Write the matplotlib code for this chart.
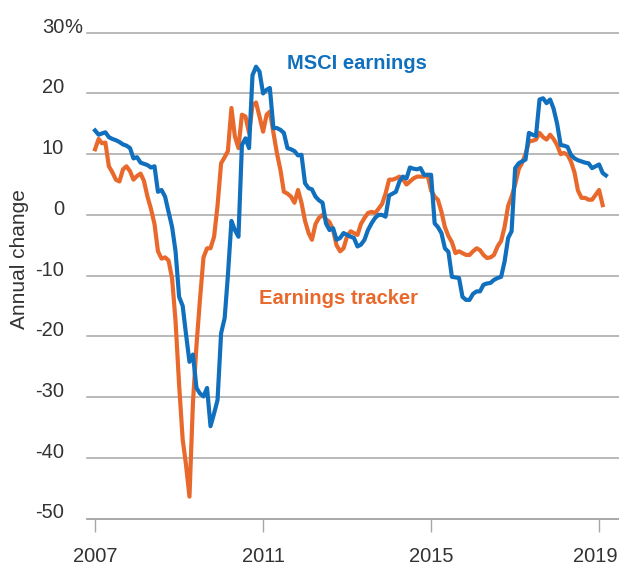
import matplotlib
matplotlib.use("Agg")
import matplotlib.pyplot as plt
import matplotlib.dates as mdates
import matplotlib.transforms as mtransforms
import pandas as pd

plt.rcParams["font.family"] = ["Liberation Sans", "DejaVu Sans"]

# Monthly annual change (%), Jan 2007 onward
msci = [13.9, 13.2, 13.4, 13.6, 12.8, 12.5, 12.3, 12.0, 11.6, 11.4,
        11.0, 9.3, 9.5, 8.6, 8.4, 8.2, 7.8, 8.0, 3.8, 4.1,
        3.0, 0.5, -2.0, -6.0, -13.5, -15.0, -19.5, -24.2, -23.0, -28.5,
        -29.4, -29.9, -28.5, -34.8, -32.7, -30.5, -19.5, -17.0, -10.0, -1.0,
        -2.5, -3.6, 11.5, 12.6, 11.0, 23.0, 24.4, 23.6, 20.0, 20.6,
        20.9, 14.3, 14.3, 14.0, 13.5, 11.0, 10.8, 10.5, 9.8, 9.9,
        5.2, 4.4, 4.2, 3.0, 2.4, 2.0, -1.4, -2.5, -2.2, -4.1,
        -3.8, -3.0, -3.3, -3.6, -3.8, -5.2, -4.9, -4.1, -2.5, -1.4,
        -0.5, 0.0, 0.0, -0.3, 3.2, 3.5, 3.8, 5.5, 6.3, 6.0,
        7.8, 7.6, 7.5, 7.7, 6.6, 6.6, 6.6, -1.4, -2.0, -3.0,
        -5.5, -6.1, -10.2, -10.3, -10.4, -13.5, -14.0, -14.0, -13.0, -12.6,
        -12.6, -11.5, -11.3, -11.2, -10.7, -10.4, -10.2, -7.7, -3.8, -2.7,
        7.7, 8.5, 8.8, 9.1, 13.5, 13.2, 13.0, 19.0, 19.2, 18.4,
        19.0, 17.5, 15.0, 11.5, 11.4, 11.2, 9.9, 9.3, 9.0, 8.8,
        8.6, 8.5, 7.7, 8.0, 8.3, 6.9, 6.5]

tracker = [10.8, 12.5, 11.8, 11.9, 8.0, 7.0, 5.8, 5.5, 7.5, 8.0,
           7.2, 5.8, 6.4, 6.8, 5.6, 3.0, 1.0, -1.5, -6.0, -7.2,
           -7.0, -7.5, -10.5, -17.5, -28.0, -37.0, -41.0, -46.4, -31.0, -21.5,
           -14.0, -7.0, -5.5, -5.5, -3.6, 1.5, 8.5, 9.5, 10.5, 17.6,
           12.9, 11.0, 16.5, 16.2, 13.5, 18.0, 18.5, 16.2, 13.7, 16.5,
           17.0, 13.5, 10.2, 7.4, 3.8, 3.5, 3.0, 2.0, 4.1, 2.0,
           -1.0, -3.0, -4.1, -1.5, -0.5, 0.0, -0.7, -1.2, -2.5, -5.0,
           -6.0, -5.5, -3.5, -2.7, -3.0, -3.3, -1.5, -0.5, 0.3, 0.5,
           0.3, 1.0, 1.8, 3.5, 5.8, 5.8, 6.0, 6.3, 5.9, 5.0,
           5.5, 6.0, 6.3, 6.3, 6.3, 6.6, 4.0, 3.0, 2.5, 0.5,
           -2.0, -3.5, -4.5, -6.3, -6.0, -6.3, -6.6, -6.6, -6.0, -5.5,
           -5.8, -6.6, -7.1, -7.0, -6.6, -5.2, -4.3, -2.0, 1.5, 3.0,
           5.0, 7.5, 8.5, 10.0, 12.1, 12.2, 12.4, 13.5, 12.8, 12.4,
           13.2, 12.5, 11.5, 10.0, 10.2, 9.9, 8.8, 7.0, 4.0, 2.8,
           2.8, 2.5, 2.5, 3.3, 4.1, 1.6]

msci_dates = pd.date_range("2007-01-01", periods=len(msci), freq="MS")
tracker_dates = pd.date_range("2007-01-01", periods=len(tracker), freq="MS")

y_ticks = [30, 20, 10, 0, -10, -20, -30, -40, -50]
x_years = [2007, 2011, 2015, 2019]

BLUE = "#1170bd"
ORANGE = "#e8692b"
GRID = "#a6a6a6"
TEXT = "#333333"
FS = 14.5

fig = plt.figure(figsize=(6.19, 5.65), dpi=100)
ax = fig.add_axes([87 / 619, 1 - 518.5 / 565, 1 - 87 / 619, (518.5 - 32.7) / 565])

ax.plot(tracker_dates, tracker, color=ORANGE, linewidth=3.0, solid_joinstyle="round")
ax.plot(msci_dates, msci, color=BLUE, linewidth=3.0, solid_joinstyle="round")

ax.set_ylim(-50, 30)
ax.set_xlim(pd.Timestamp("2006-10-23"), pd.Timestamp("2019-06-23"))

# y axis: gridlines with labels sitting just above them
ax.set_yticks(y_ticks)
ax.set_yticklabels([str(v) for v in y_ticks])
ax.yaxis.grid(True, color=GRID, linewidth=1.1)
for gl in ax.get_ygridlines():
    gl.set_clip_on(False)
ax.tick_params(axis="y", length=0, pad=16.5, labelsize=FS, labelcolor=TEXT)
for lbl in ax.get_yticklabels():
    lbl.set_verticalalignment("baseline")
pct_trans = mtransforms.blended_transform_factory(ax.transAxes, ax.transData) + \
    mtransforms.ScaledTranslation(-23 / 100, 0, fig.dpi_scale_trans)
ax.text(0, 30, "%", transform=pct_trans, ha="left", va="baseline",
        fontsize=FS, color=TEXT)

# x axis
ax.set_xticks([pd.Timestamp(f"{y}-01-01") for y in x_years])
ax.xaxis.set_major_formatter(mdates.DateFormatter("%Y"))
ax.tick_params(axis="x", direction="out", length=9.5, width=1, color=GRID,
               pad=11, labelsize=FS, labelcolor=TEXT)
# last year label sits against the right edge; keep it inside the figure
last = ax.get_xticklabels()[-1]
last.set_transform(last.get_transform() +
                   mtransforms.ScaledTranslation(-4 / 100, 0, fig.dpi_scale_trans))

for side in ["top", "right", "left"]:
    ax.spines[side].set_visible(False)
ax.spines["bottom"].set_color(GRID)
ax.spines["bottom"].set_linewidth(1.1)

fig.text(20 / 619, 1 - 259 / 565, "Annual change", rotation=90, ha="center",
         va="center", fontsize=15, color=TEXT)

ax.text(pd.Timestamp("2011-07-25"), 25.0, "MSCI earnings", color=BLUE,
        fontsize=FS, fontweight="bold", ha="left", va="center")
ax.text(pd.Timestamp("2010-11-25"), -13.7, "Earnings tracker", color=ORANGE,
        fontsize=FS, fontweight="bold", ha="left", va="center")

fig.savefig("out.png", dpi=100)
